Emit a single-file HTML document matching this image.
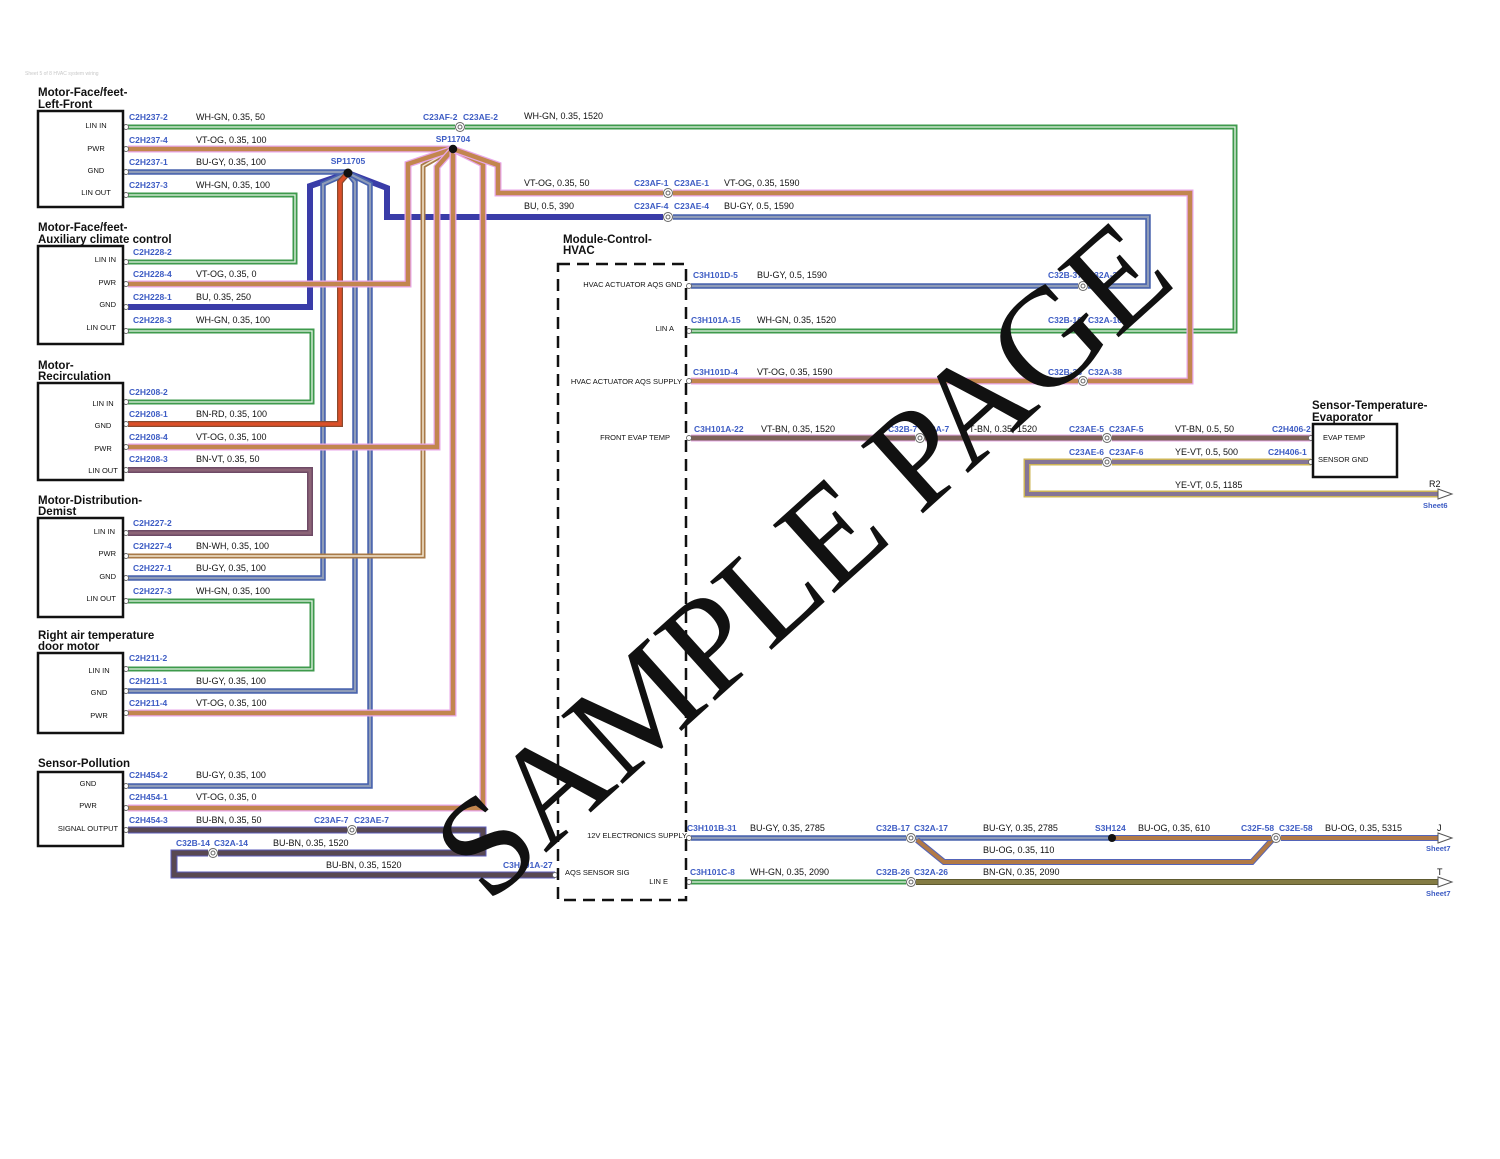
<!DOCTYPE html>
<html><head><meta charset="utf-8"><style>
html,body{margin:0;padding:0;background:#fff}
svg{display:block}
text{font-family:"Liberation Sans",Arial,sans-serif}
.t{font-size:11.5px;font-weight:bold;fill:#111}
.pl{font-size:7.5px;fill:#111}
.cl{font-size:8.5px;font-weight:bold;fill:#3d5cc4}
.sp{font-size:9px;fill:#111}
path{fill:none;stroke-linejoin:miter;stroke-linecap:butt}
.vo{stroke:#e8a6e8;stroke-width:7}.vi{stroke:#c2864e;stroke-width:4.5}
.go{stroke:#3e9a4c;stroke-width:5}.gi{stroke:#e6f4e6;stroke-width:1.3}
.bgo{stroke:#4863ad;stroke-width:5.5}.bgi{stroke:#8f9cb8;stroke-width:2.2}
.bu{stroke:#3a3ca8;stroke-width:6}
.rdo{stroke:#8b4a2e;stroke-width:6}.rdi{stroke:#dc4f28;stroke-width:3.5}
.bvo{stroke:#6e4a66;stroke-width:6}.bvi{stroke:#8c6477;stroke-width:3}
.bwo{stroke:#a87a48;stroke-width:5}.bwi{stroke:#f3e6cf;stroke-width:1.5}
.bbo{stroke:#5a5ab8;stroke-width:7}.bbi{stroke:#584852;stroke-width:5}
.vbo{stroke:#e6a8e6;stroke-width:7}.vbi{stroke:#7b6258;stroke-width:5}
.yvo{stroke:#cdb456;stroke-width:7}.yvi{stroke:#857596;stroke-width:4}
.boo{stroke:#5464b8;stroke-width:6}.boi{stroke:#b27a46;stroke-width:4}
.ngo{stroke:#5e5a30;stroke-width:6}.ngi{stroke:#847c44;stroke-width:4}
.box{fill:none;stroke:#111;stroke-width:2.5}
.pin{fill:#fff;stroke:#666;stroke-width:0.9}
.con{fill:#fff;stroke:#666;stroke-width:1}
</style></head><body>
<svg width="1500" height="1159" viewBox="0 0 1500 1159" xmlns="http://www.w3.org/2000/svg">
<rect width="1500" height="1159" fill="#fff"/>
<text x="25" y="75" font-size="5" fill="#c8c8c8">Sheet 5 of 8 HVAC system wiring</text>

<g>
<path class="go" d="M128,127 H455 M465,127 H1235 V331 H691"/><path class="gi" d="M128,127 H455 M465,127 H1235 V331 H691"/>
<path class="go" d="M128,195 H295 V262 H128"/><path class="gi" d="M128,195 H295 V262 H128"/>
<path class="go" d="M128,331 H312 V402 H128"/><path class="gi" d="M128,331 H312 V402 H128"/>
<path class="go" d="M128,601 H312 V669 H128"/><path class="gi" d="M128,601 H312 V669 H128"/>
<path class="go" d="M691,882 H906"/><path class="gi" d="M691,882 H906"/>
</g>
<path class="bvo" d="M128,470 H310 V533 H128"/><path class="bvi" d="M128,470 H310 V533 H128"/>
<path class="bu" d="M128,307 H310 V186 L348,173"/>
<path class="bu" d="M348,173 L387,188 V217 H663"/>
<g>
<path class="bgo" d="M128,172 H348"/><path class="bgi" d="M128,172 H348"/>
<path class="bgo" d="M128,578 H323 V184 L348,173"/><path class="bgi" d="M128,578 H323 V184 L348,173"/>
<path class="bgo" d="M128,691 H355 V182 L348,173"/><path class="bgi" d="M128,691 H355 V182 L348,173"/>
<path class="bgo" d="M128,786 H370 V184 L348,173"/><path class="bgi" d="M128,786 H370 V184 L348,173"/>
<path class="bgo" d="M673,217 H1148 V286 H1088 M1078,286 H691"/><path class="bgi" d="M673,217 H1148 V286 H1088 M1078,286 H691"/>
<path class="bgo" d="M691,838 H906 M916,838 H1112"/><path class="bgi" d="M691,838 H906 M916,838 H1112"/>
</g>
<path class="rdo" d="M128,424 H340 V182 L348,173"/><path class="rdi" d="M128,424 H340 V182 L348,173"/>
<path class="bwo" d="M128,556 H423 V166 L453,149"/><path class="bwi" d="M128,556 H423 V166 L453,149"/>
<g>
<path class="vo" d="M128,149 H453"/><path class="vi" d="M128,149 H453"/>
<path class="vo" d="M128,284 H408 V164 L453,149"/><path class="vi" d="M128,284 H408 V164 L453,149"/>
<path class="vo" d="M128,447 H437 V167 L453,149"/><path class="vi" d="M128,447 H437 V167 L453,149"/>
<path class="vo" d="M128,713 H453 V149"/><path class="vi" d="M128,713 H453 V149"/>
<path class="vo" d="M128,808 H483 V164 L453,149"/><path class="vi" d="M128,808 H483 V164 L453,149"/>
<path class="vo" d="M453,149 L498,165 V193 H663"/><path class="vi" d="M453,149 L498,165 V193 H663"/>
<path class="vo" d="M673,193 H1190 V381 H1088 M1078,381 H691"/><path class="vi" d="M673,193 H1190 V381 H1088 M1078,381 H691"/>
</g>
<path class="bbo" d="M128,830 H347 M357,830 H483 V853 H218 M208,853 H174 V875 H555"/><path class="bbi" d="M128,830 H347 M357,830 H483 V853 H218 M208,853 H174 V875 H555"/>
<path class="vbo" d="M691,438 H915 M925,438 H1102 M1112,438 H1311"/><path class="vbi" d="M691,438 H915 M925,438 H1102 M1112,438 H1311"/>
<path class="yvo" d="M1311,462 H1112 M1102,462 H1027 V494 H1438"/><path class="yvi" d="M1311,462 H1112 M1102,462 H1027 V494 H1438"/>
<path class="boo" d="M917,840 L944,862 H1252 L1272,840"/><path class="boi" d="M917,840 L944,862 H1252 L1272,840"/>
<path class="boo" d="M1112,838 H1271 M1281,838 H1438"/><path class="boi" d="M1112,838 H1271 M1281,838 H1438"/>
<path class="ngo" d="M916,882 H1438"/><path class="ngi" d="M916,882 H1438"/>

<g fill="#fff" stroke="#555" stroke-width="1">
<polygon points="1438,489 1452,494 1438,499"/>
<polygon points="1438,833 1452,838 1438,843"/>
<polygon points="1438,877 1452,882 1438,887"/>
</g>

<circle cx="453" cy="149" r="4.2" fill="#111"/>
<circle cx="348" cy="173" r="4.5" fill="#111"/>
<circle cx="1112" cy="838" r="4" fill="#111"/>

<g>
<circle class="con" cx="460" cy="127" r="4.5"/><circle class="con" cx="460" cy="127" r="2"/>
<circle class="con" cx="668" cy="193" r="4.5"/><circle class="con" cx="668" cy="193" r="2"/>
<circle class="con" cx="668" cy="217" r="4.5"/><circle class="con" cx="668" cy="217" r="2"/>
<circle class="con" cx="352" cy="830" r="4.5"/><circle class="con" cx="352" cy="830" r="2"/>
<circle class="con" cx="213" cy="853" r="4.5"/><circle class="con" cx="213" cy="853" r="2"/>
<circle class="con" cx="1083" cy="286" r="4.5"/><circle class="con" cx="1083" cy="286" r="2"/>
<circle class="con" cx="1083" cy="331" r="4.5"/><circle class="con" cx="1083" cy="331" r="2"/>
<circle class="con" cx="1083" cy="381" r="4.5"/><circle class="con" cx="1083" cy="381" r="2"/>
<circle class="con" cx="920" cy="438" r="4.5"/><circle class="con" cx="920" cy="438" r="2"/>
<circle class="con" cx="1107" cy="438" r="4.5"/><circle class="con" cx="1107" cy="438" r="2"/>
<circle class="con" cx="1107" cy="462" r="4.5"/><circle class="con" cx="1107" cy="462" r="2"/>
<circle class="con" cx="911" cy="838" r="4.5"/><circle class="con" cx="911" cy="838" r="2"/>
<circle class="con" cx="1276" cy="838" r="4.5"/><circle class="con" cx="1276" cy="838" r="2"/>
<circle class="con" cx="911" cy="882" r="4.5"/><circle class="con" cx="911" cy="882" r="2"/>
</g>

<g>
<circle class="pin" cx="126" cy="127" r="2.5"/><circle class="pin" cx="126" cy="149" r="2.5"/><circle class="pin" cx="126" cy="172" r="2.5"/><circle class="pin" cx="126" cy="195" r="2.5"/>
<circle class="pin" cx="126" cy="262" r="2.5"/><circle class="pin" cx="126" cy="284" r="2.5"/><circle class="pin" cx="126" cy="307" r="2.5"/><circle class="pin" cx="126" cy="331" r="2.5"/>
<circle class="pin" cx="126" cy="402" r="2.5"/><circle class="pin" cx="126" cy="424" r="2.5"/><circle class="pin" cx="126" cy="447" r="2.5"/><circle class="pin" cx="126" cy="470" r="2.5"/>
<circle class="pin" cx="126" cy="533" r="2.5"/><circle class="pin" cx="126" cy="556" r="2.5"/><circle class="pin" cx="126" cy="578" r="2.5"/><circle class="pin" cx="126" cy="601" r="2.5"/>
<circle class="pin" cx="126" cy="669" r="2.5"/><circle class="pin" cx="126" cy="691" r="2.5"/><circle class="pin" cx="126" cy="713" r="2.5"/>
<circle class="pin" cx="126" cy="786" r="2.5"/><circle class="pin" cx="126" cy="808" r="2.5"/><circle class="pin" cx="126" cy="830" r="2.5"/>
<circle class="pin" cx="689" cy="286" r="2.5"/><circle class="pin" cx="689" cy="331" r="2.5"/><circle class="pin" cx="689" cy="381" r="2.5"/><circle class="pin" cx="689" cy="438" r="2.5"/>
<circle class="pin" cx="689" cy="838" r="2.5"/><circle class="pin" cx="689" cy="882" r="2.5"/><circle class="pin" cx="555" cy="875" r="2.5"/>
<circle class="pin" cx="1311" cy="438" r="2.5"/><circle class="pin" cx="1311" cy="462" r="2.5"/>
</g>

<rect class="box" x="38" y="111" width="85" height="96"/>
<rect class="box" x="38" y="246" width="85" height="98"/>
<rect class="box" x="38" y="383" width="85" height="97"/>
<rect class="box" x="38" y="518" width="85" height="99"/>
<rect class="box" x="38" y="653" width="85" height="80"/>
<rect class="box" x="38" y="772" width="85" height="74"/>
<rect class="box" x="1313" y="424" width="84" height="53"/>
<rect x="558" y="264" width="128" height="636" fill="none" stroke="#111" stroke-width="2.5" stroke-dasharray="12,7"/>

<text class="t" x="38" y="96">Motor-Face/feet-</text><text class="t" x="38" y="108">Left-Front</text>
<text class="t" x="38" y="231">Motor-Face/feet-</text><text class="t" x="38" y="243">Auxiliary climate control</text>
<text class="t" x="38" y="369">Motor-</text><text class="t" x="38" y="380">Recirculation</text>
<text class="t" x="38" y="504">Motor-Distribution-</text><text class="t" x="38" y="515">Demist</text>
<text class="t" x="38" y="639">Right air temperature</text><text class="t" x="38" y="650">door motor</text>
<text class="t" x="38" y="767">Sensor-Pollution</text>
<text class="t" x="563" y="243">Module-Control-</text><text class="t" x="563" y="254">HVAC</text>
<text class="t" x="1312" y="409">Sensor-Temperature-</text><text class="t" x="1312" y="421">Evaporator</text>

<g class="pl">
<text x="96" y="128" text-anchor="middle">LIN IN</text><text x="96" y="151" text-anchor="middle">PWR</text><text x="96" y="173" text-anchor="middle">GND</text><text x="96" y="195" text-anchor="middle">LIN OUT</text>
<text x="116" y="262" text-anchor="end">LIN IN</text><text x="116" y="285" text-anchor="end">PWR</text><text x="116" y="307" text-anchor="end">GND</text><text x="116" y="330" text-anchor="end">LIN OUT</text>
<text x="103" y="406" text-anchor="middle">LIN IN</text><text x="103" y="428" text-anchor="middle">GND</text><text x="103" y="451" text-anchor="middle">PWR</text><text x="103" y="473" text-anchor="middle">LIN OUT</text>
<text x="115" y="534" text-anchor="end">LIN IN</text><text x="116" y="556" text-anchor="end">PWR</text><text x="116" y="579" text-anchor="end">GND</text><text x="116" y="601" text-anchor="end">LIN OUT</text>
<text x="99" y="673" text-anchor="middle">LIN IN</text><text x="99" y="695" text-anchor="middle">GND</text><text x="99" y="718" text-anchor="middle">PWR</text>
<text x="88" y="786" text-anchor="middle">GND</text><text x="88" y="808" text-anchor="middle">PWR</text><text x="88" y="831" text-anchor="middle">SIGNAL OUTPUT</text>
<text x="682" y="287" text-anchor="end">HVAC ACTUATOR AQS GND</text>
<text x="674" y="331" text-anchor="end">LIN A</text>
<text x="682" y="384" text-anchor="end">HVAC ACTUATOR AQS SUPPLY</text>
<text x="670" y="440" text-anchor="end">FRONT EVAP TEMP</text>
<text x="687" y="838" text-anchor="end">12V ELECTRONICS SUPPLY</text>
<text x="565" y="875">AQS SENSOR SIG</text>
<text x="668" y="884" text-anchor="end">LIN E</text>
<text x="1323" y="440">EVAP TEMP</text>
<text x="1318" y="462">SENSOR GND</text>
</g>

<g class="cl">
<text x="129" y="120">C2H237-2</text><text x="129" y="143">C2H237-4</text><text x="129" y="165">C2H237-1</text><text x="129" y="188">C2H237-3</text>
<text x="133" y="255">C2H228-2</text><text x="133" y="277">C2H228-4</text><text x="133" y="300">C2H228-1</text><text x="133" y="323">C2H228-3</text>
<text x="129" y="395">C2H208-2</text><text x="129" y="417">C2H208-1</text><text x="129" y="440">C2H208-4</text><text x="129" y="462">C2H208-3</text>
<text x="133" y="526">C2H227-2</text><text x="133" y="549">C2H227-4</text><text x="133" y="571">C2H227-1</text><text x="133" y="594">C2H227-3</text>
<text x="129" y="661">C2H211-2</text><text x="129" y="684">C2H211-1</text><text x="129" y="706">C2H211-4</text>
<text x="129" y="778">C2H454-2</text><text x="129" y="800">C2H454-1</text><text x="129" y="823">C2H454-3</text>
<text x="423" y="120">C23AF-2</text><text x="463" y="120">C23AE-2</text>
<text x="453" y="142" text-anchor="middle">SP11704</text>
<text x="348" y="164" text-anchor="middle">SP11705</text>
<text x="634" y="186">C23AF-1</text><text x="674" y="186">C23AE-1</text>
<text x="634" y="209">C23AF-4</text><text x="674" y="209">C23AE-4</text>
<text x="314" y="823">C23AF-7</text><text x="354" y="823">C23AE-7</text>
<text x="176" y="846">C32B-14</text><text x="214" y="846">C32A-14</text>
<text x="503" y="868">C3H101A-27</text>
<text x="693" y="278">C3H101D-5</text><text x="1048" y="278">C32B-37</text><text x="1088" y="278">C32A-37</text>
<text x="691" y="323">C3H101A-15</text><text x="1048" y="323">C32B-10</text><text x="1088" y="323">C32A-10</text>
<text x="693" y="375">C3H101D-4</text><text x="1048" y="375">C32B-38</text><text x="1088" y="375">C32A-38</text>
<text x="694" y="432">C3H101A-22</text><text x="888" y="432">C32B-7</text><text x="920" y="432">C32A-7</text>
<text x="1069" y="432">C23AE-5</text><text x="1109" y="432">C23AF-5</text><text x="1272" y="432">C2H406-2</text>
<text x="1069" y="455">C23AE-6</text><text x="1109" y="455">C23AF-6</text><text x="1268" y="455">C2H406-1</text>
<text x="1423" y="508" font-size="7.5">Sheet6</text>
<text x="687" y="831">C3H101B-31</text><text x="876" y="831">C32B-17</text><text x="914" y="831">C32A-17</text>
<text x="1095" y="831">S3H124</text><text x="1241" y="831">C32F-58</text><text x="1279" y="831">C32E-58</text>
<text x="1426" y="851" font-size="7.5">Sheet7</text>
<text x="690" y="875">C3H101C-8</text><text x="876" y="875">C32B-26</text><text x="914" y="875">C32A-26</text>
<text x="1426" y="896" font-size="7.5">Sheet7</text>
</g>

<g class="sp" xml:space="preserve">
<text x="196" y="120">WH-GN,  0.35,  50</text><text x="196" y="143">VT-OG,  0.35,  100</text><text x="196" y="165">BU-GY,  0.35,  100</text><text x="196" y="188">WH-GN,  0.35,  100</text>
<text x="196" y="277">VT-OG,  0.35,  0</text><text x="196" y="300">BU,  0.35,  250</text><text x="196" y="323">WH-GN,  0.35,  100</text>
<text x="196" y="417">BN-RD,  0.35,  100</text><text x="196" y="440">VT-OG,  0.35,  100</text><text x="196" y="462">BN-VT,  0.35,  50</text>
<text x="196" y="549">BN-WH,  0.35,  100</text><text x="196" y="571">BU-GY,  0.35,  100</text><text x="196" y="594">WH-GN,  0.35,  100</text>
<text x="196" y="684">BU-GY,  0.35,  100</text><text x="196" y="706">VT-OG,  0.35,  100</text>
<text x="196" y="778">BU-GY,  0.35,  100</text><text x="196" y="800">VT-OG,  0.35,  0</text><text x="196" y="823">BU-BN,  0.35,  50</text>
<text x="273" y="846">BU-BN,  0.35,  1520</text><text x="326" y="868">BU-BN,  0.35,  1520</text>
<text x="524" y="119">WH-GN,  0.35,  1520</text>
<text x="524" y="186">VT-OG,  0.35,  50</text><text x="724" y="186">VT-OG,  0.35,  1590</text>
<text x="524" y="209">BU,  0.5,  390</text><text x="724" y="209">BU-GY,  0.5,  1590</text>
<text x="757" y="278">BU-GY,  0.5,  1590</text>
<text x="757" y="323">WH-GN,  0.35,  1520</text>
<text x="757" y="375">VT-OG,  0.35,  1590</text>
<text x="761" y="432">VT-BN,  0.35,  1520</text><text x="963" y="432">VT-BN,  0.35,  1520</text><text x="1175" y="432">VT-BN,  0.5,  50</text>
<text x="1175" y="455">YE-VT,  0.5,  500</text>
<text x="1175" y="488">YE-VT,  0.5,  1185</text><text x="1429" y="487">R2</text>
<text x="750" y="831">BU-GY,  0.35,  2785</text><text x="983" y="831">BU-GY,  0.35,  2785</text><text x="1138" y="831">BU-OG,  0.35,  610</text><text x="1325" y="831">BU-OG,  0.35,  5315</text><text x="1437" y="831">J</text>
<text x="983" y="853">BU-OG,  0.35,  110</text>
<text x="750" y="875">WH-GN,  0.35,  2090</text><text x="983" y="875">BN-GN,  0.35,  2090</text><text x="1437" y="875">T</text>
</g>

<text transform="translate(488,905) rotate(-42)" x="0" y="0" font-size="140" fill="#111" textLength="930" lengthAdjust="spacing" style="font-family:'Liberation Serif',serif">SAMPLE PAGE</text>
</svg>
</body></html>
